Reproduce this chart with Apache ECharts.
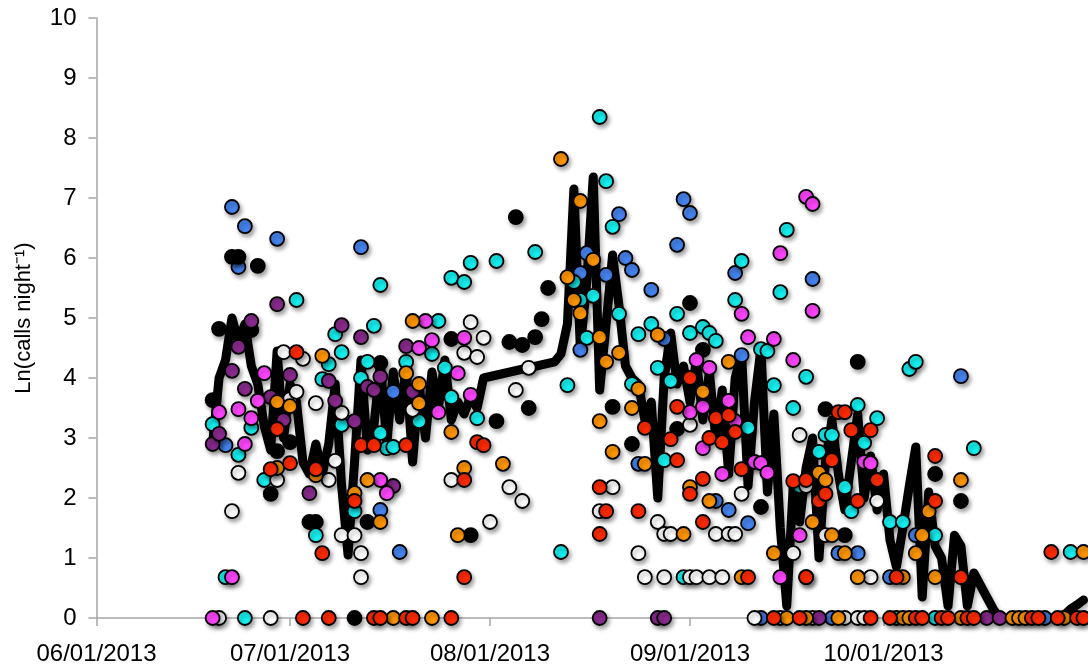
<!DOCTYPE html>
<html>
<head>
<meta charset="utf-8">
<script src="https://cdn.jsdelivr.net/npm/echarts@6/dist/echarts.min.js"></script>
<style>
html,body{margin:0;padding:0;background:#fff;}
#chart{width:1088px;height:668px;}
</style>
</head>
<body>
<div id="chart"></div>
<script>
// Day offsets are days after 06/01/2013; values are Ln(calls night^-1)
const yTicks = [0,1,2,3,4,5,6,7,8,9,10];
const xLabelsShown = ['06/01/2013','07/01/2013','08/01/2013','09/01/2013','10/01/2013'];

const blueSite = [[21,6.85],[22,5.85],[23,6.53],[28,6.32],[20,2.88],[41,6.18],[44,1.8],[46,3.77],[47,1.1],
 [75,5.75],[75,4.47],[76,6.08],[79,5.72],[81,6.73],[82,6.0],[83,5.8],[84,2.57],[86,5.47],[88,4.65],[90,6.22],
 [91,6.98],[92,6.75],[96,1.95],[98,1.8],[99,5.75],[100,4.38],[101,1.58],[103,0],[110,0.68],[111,5.65],[114,0],
 [115,1.08],[118,1.08],[123,0.68],[127,1.38],[134,4.03],[147,0]];

const blackSite = [[18,3.63],[19,4.82],[21,6.02],[22,6.02],[24,4.8],[25,5.87],[27,2.07],[28,2.78],[30,2.93],
 [33,1.6],[34,1.6],[40,0],[42,1.6],[44,4.25],[55,4.65],[58,1.38],[62,3.28],[64,4.6],[65,6.68],[66,4.55],[67,3.5],
 [68,4.68],[69,4.98],[70,5.5],[80,3.52],[83,2.9],[90,3.15],[92,5.25],[94,4.47],[103,1.85],[113,3.48],[116,1.38],
 [118,4.27],[130,2.4],[134,1.95]];

const cyanSite = [[18,3.23],[20,0.68],[22,2.72],[23,0],[24,3.17],[26,2.3],[31,5.3],[34,1.38],[35,3.98],[36,4.23],
 [37,4.73],[38,4.43],[38,3.22],[40,1.78],[41,4.0],[42,4.27],[43,4.87],[44,5.55],[44,3.08],[45,2.83],[46,2.85],
 [48,4.27],[50,3.28],[52,4.4],[53,4.95],[54,4.17],[55,3.68],[55,5.67],[57,5.6],[58,5.92],[59,3.33],[62,5.95],
 [68,6.1],[72,1.1],[73,3.88],[74,5.6],[75,5.3],[76,4.67],[77,5.37],[78,8.35],[79,7.28],[80,6.52],[81,5.07],
 [83,3.9],[84,4.73],[86,4.9],[87,4.17],[88,2.63],[89,3.95],[90,5.07],[91,0.68],[92,4.75],[94,4.85],[95,4.75],
 [96,4.62],[99,5.3],[100,5.95],[101,3.17],[103,4.48],[104,4.45],[105,3.88],[106,5.43],[107,6.47],[108,3.5],
 [109,2.2],[110,4.02],[112,2.77],[113,3.05],[114,3.05],[116,2.18],[117,1.78],[118,3.55],[119,2.92],[121,3.33],
 [123,1.6],[124,0],[125,1.6],[126,4.15],[127,4.27],[130,1.38],[130,0],[136,2.83],[151,1.1]];

const whiteSite = [[19,0],[21,1.78],[22,2.42],[27,0],[28,2.3],[29,4.43],[30,3.65],[31,3.77],[32,4.32],[34,3.58],
 [36,2.3],[37,2.62],[38,3.42],[38,1.38],[40,1.38],[41,1.08],[41,0.68],[49,3.47],[55,2.3],[57,4.42],[58,4.93],
 [59,4.35],[60,4.67],[61,1.6],[64,2.18],[65,3.8],[66,1.95],[67,4.17],[78,1.78],[80,2.18],[84,1.08],[85,0.68],
 [87,1.6],[88,1.4],[88,0.68],[89,1.4],[92,3.22],[92,0.68],[93,0.68],[95,0.68],[96,1.4],[97,0.68],[98,1.4],
 [99,1.4],[100,2.07],[102,0],[106,0],[108,1.08],[109,3.05],[110,2.2],[111,0],[113,1.38],[116,0],[118,0],[119,0],
 [120,0.68],[121,1.95]];

const purpleSite = [[18,2.9],[19,3.07],[21,4.12],[22,4.52],[23,3.82],[24,4.95],[27,3.68],[28,5.23],[29,3.3],
 [30,4.05],[33,2.08],[34,2.48],[36,3.95],[37,3.62],[38,4.88],[40,3.28],[41,4.68],[42,3.85],[43,3.8],[44,4.02],
 [46,2.2],[48,4.53],[49,3.77],[78,0],[87,0],[88,0],[112,0],[138,0],[140,0]];

const magentaSite = [[18,0],[19,3.43],[21,0.68],[22,3.48],[23,2.9],[24,3.33],[25,3.62],[26,4.08],[44,2.3],
 [45,2.08],[50,4.5],[51,4.95],[52,4.63],[53,3.43],[56,4.08],[57,4.67],[58,3.72],[92,3.43],[93,4.3],[94,3.52],
 [94,2.83],[95,4.17],[97,2.4],[98,3.62],[99,3.28],[100,5.07],[101,4.68],[102,2.6],[103,2.58],[104,2.42],
 [105,4.65],[106,6.08],[106,0.68],[108,4.3],[109,1.38],[110,7.02],[111,6.9],[111,5.12],[119,2.6],[120,2.58]];

const orangeSite = [[28,3.6],[28,2.5],[30,3.53],[34,2.38],[35,4.37],[40,2.08],[42,2.3],[44,1.6],[46,0],[48,4.08],
 [49,4.95],[50,3.58],[50,3.9],[52,0],[55,3.1],[56,1.38],[57,2.5],[63,2.57],[72,7.65],[73,5.68],[74,5.3],[75,5.08],
 [75,6.95],[77,5.97],[78,4.68],[78,3.28],[79,4.27],[80,2.77],[81,4.42],[83,3.5],[84,3.82],[85,2.57],[87,4.72],
 [91,1.4],[92,2.18],[94,3.77],[95,1.95],[98,4.27],[100,0.68],[105,1.08],[107,0],[110,0],[111,1.6],[112,2.42],
 [113,2.3],[114,1.38],[115,0],[116,1.08],[118,0.68],[125,0.68],[125,0],[126,0],[127,1.08],[128,1.38],[129,1.78],
 [130,0.68],[134,2.3],[134,0],[142,0],[143,0],[144,0],[150,0],[153,1.1]];

const redSite = [[27,2.48],[28,3.15],[30,2.58],[31,4.43],[32,0],[34,2.48],[35,1.08],[36,0],[40,1.95],[41,2.88],
 [43,2.88],[43,0],[44,0],[48,2.88],[48,0],[49,0],[55,0],[57,0.68],[57,2.3],[59,2.93],[60,2.88],[78,2.18],
 [78,1.4],[79,1.78],[84,1.78],[85,3.17],[89,2.98],[90,3.52],[90,2.63],[92,2.07],[92,4.0],[94,1.6],[94,2.32],
 [95,3.0],[96,3.33],[97,2.93],[98,3.38],[99,3.1],[100,2.48],[101,0.68],[105,0],[108,2.28],[109,0],[110,2.3],
 [110,0.68],[112,1.95],[113,2.07],[114,2.63],[115,3.43],[116,3.43],[117,3.13],[118,1.95],[120,3.13],[120,0],
 [121,2.3],[123,0],[124,0.68],[127,0],[128,0],[130,2.7],[130,1.95],[131,0],[132,0],[134,0.68],[135,0],[136,0],
 [145,0],[146,0],[148,1.1],[149,0],[152,0],[153,0]];

const meanDays = [18,19,20,21,22,23,24,25,26,27,28,29,30,31,32,33,34,35,36,37,38,39,40,41,42,43,44,45,46,47,48,49,50,
 51,52,53,54,55,56,57,58,59,60,71,72,73,74,75,76,77,78,79,80,81,82,83,84,85,86,87,88,89,90,91,92,93,94,95,96,97,98,
 99,100,101,102,103,104,105,106,107,108,109,110,111,112,113,114,115,116,117,118,119,120,121,122,123,124,125,126,
 127,128,129,130,131,132,133,134,135,136,137,138,139,140,141,142,143,144,145,146,147,148,149,150,151,152,153];
const meanVals = [2.9,4.0,4.3,5.0,4.6,4.9,4.2,3.9,3.2,2.8,4.45,3.0,3.9,3.6,2.6,2.4,2.9,2.4,2.9,3.9,2.2,1.05,2.6,
 4.3,2.8,3.2,4.25,2.9,4.1,3.3,4.2,2.6,3.9,3.0,4.1,3.5,4.3,3.3,3.6,3.4,3.7,3.5,4.0,4.27,4.4,4.9,7.15,4.5,5.6,7.35,
 3.8,4.9,6.05,5.2,4.2,4.0,3.9,3.3,3.6,2.0,4.0,4.75,3.9,4.2,3.6,4.3,3.3,4.1,3.0,3.8,2.4,4.0,4.4,2.2,3.6,4.5,2.1,
 3.4,1.5,0.2,2.2,1.6,2.5,3.0,1.0,2.6,3.3,2.4,1.8,2.6,3.4,2.0,2.7,1.8,2.4,1.3,0.85,1.5,2.2,2.85,0.35,2.1,1.2,1.0,
 0.2,1.38,1.2,0.2,0.75,0.55,0.35,0.15,0,0,0,0,0,0,0,0,0,0,0.05,0.15,0.22,0.3];

const toTime = d => new Date(2013, 5, 1 + d).getTime();
const pad = n => (n < 10 ? '0' : '') + n;

const chart = echarts.init(document.getElementById('chart'));
const FONT = 'Liberation Sans';

function scatter(data, color, border) {
  return {
    type: 'scatter',
    data: data.map(p => [toTime(p[0]), p[1]]),
    symbol: 'circle',
    symbolSize: 14,
    clip: false,
    z: 3,
    itemStyle: {
      color: color,
      borderColor: border || '#000',
      borderWidth: 1.8,
      opacity: 1,
      shadowBlur: 4,
      shadowOffsetX: 2,
      shadowOffsetY: 3,
      shadowColor: 'rgba(0,0,0,0.35)'
    },
    emphasis: { disabled: true }
  };
}

chart.setOption({
  animation: false,
  backgroundColor: '#fff',
  grid: { left: 96.5, right: 4.5, top: 18, bottom: 50, containLabel: false },
  xAxis: {
    type: 'time',
    min: toTime(0),
    max: toTime(153),
    splitNumber: 5,
    minInterval: 28 * 864e5,
    axisLine: { lineStyle: { color: '#a6a6a6', width: 1.5 } },
    axisTick: { show: true, length: 8, lineStyle: { color: '#a6a6a6', width: 1.5 } },
    axisLabel: {
      color: '#000', fontSize: 24, fontFamily: FONT, margin: 24,
      showMaxLabel: false, showMinLabel: true, hideOverlap: false,
      formatter: function (v) {
        const d = new Date(v);
        const s = pad(d.getMonth() + 1) + '/' + pad(d.getDate()) + '/' + d.getFullYear();
        return xLabelsShown.indexOf(s) >= 0 ? s : '';
      }
    },
    splitLine: { show: false }
  },
  yAxis: {
    type: 'value',
    min: yTicks[0], max: yTicks[yTicks.length - 1], interval: 1,
    axisLine: { show: true, lineStyle: { color: '#a6a6a6', width: 1.5 } },
    axisTick: { show: true, length: 8, lineStyle: { color: '#a6a6a6', width: 1.5 } },
    axisLabel: { color: '#000', fontSize: 24, fontFamily: FONT, margin: 20 },
    splitLine: { show: false },
    name: 'Ln(calls night\u207B\u00B9)',
    nameLocation: 'middle',
    nameRotate: 90,
    nameGap: 62,
    nameTextStyle: { color: '#000', fontSize: 22, fontFamily: FONT }
  },
  series: [
    {
      type: 'line',
      data: meanDays.map((d, i) => [toTime(d), meanVals[i]]),
      showSymbol: false,
      symbol: 'none',
      clip: false,
      z: 2,
      lineStyle: { color: '#000', width: 9, join: 'round', cap: 'round',
        shadowBlur: 4, shadowOffsetX: 2, shadowOffsetY: 3, shadowColor: 'rgba(0,0,0,0.3)' },
      emphasis: { disabled: true }
    },
    scatter(blueSite, '#4584f0'),
    scatter(blackSite, '#000000'),
    scatter(cyanSite, '#14f0f0'),
    scatter(whiteSite, '#ffffff'),
    scatter(purpleSite, '#8a2a8e'),
    scatter(magentaSite, '#ff44ff'),
    scatter(orangeSite, '#ff9500'),
    scatter(redSite, '#ff2a00')
  ]
});
</script>
</body>
</html>
